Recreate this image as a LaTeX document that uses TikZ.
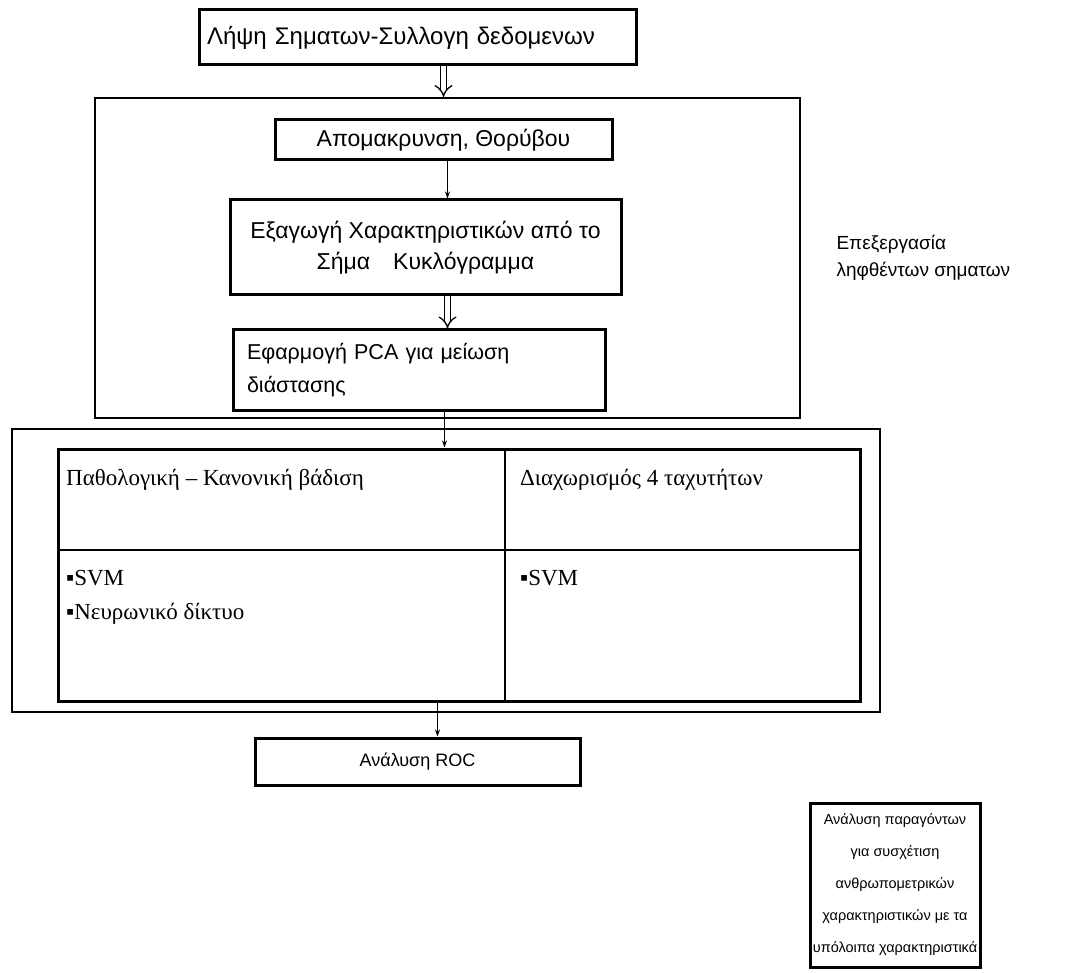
\documentclass[tikz,border=0pt]{standalone}
\usepackage{fontspec}
\setmainfont{Liberation Sans}
\newfontfamily\tabfont{Liberation Serif}
\usetikzlibrary{arrows.meta, positioning}

\begin{document}
\begin{tikzpicture}[
    x=1pt, y=-1pt,
    stage/.style={rectangle, draw=black, line width=3pt, inner sep=4pt, font=\fontsize{23}{31}\selectfont, align=center},
    frame/.style={rectangle, draw=black, line width=1.8pt, inner sep=0pt},
    cell/.style={anchor=west, inner sep=0pt, font=\tabfont\fontsize{23}{26}\selectfont},
    arrow/.style={-{Stealth[length=7pt, width=5pt]}, line width=1.2pt},
    bigarrow/.style={double, double distance=5pt, line width=1.3pt, -{Implies}}
]
    \useasboundingbox (0,0) rectangle (1068,973);

    % Acquisition
    \node[stage, minimum width=437pt, minimum height=55pt, text width=421pt, align=left, font=\fontsize{24}{28}\selectfont] (acq) at (417.5,37.5) {Λήψη Σηματων-Συλλογη δεδομενων};

    % Signal processing block
    \node[frame, minimum width=705pt, minimum height=320pt] (proc) at (447.5,258) {};
    \node[stage, minimum width=337pt, minimum height=40pt] (noise) at (443.5,140) {Απομακρυνση, Θορύβου};
    \node[stage, minimum width=391pt, minimum height=95pt] (feat) at (425.5,247.5) {Εξαγωγή Χαρακτηριστικών από το\\Σήμα\quad Κυκλόγραμμα};
    \node[stage, minimum width=372pt, minimum height=80pt, text width=344pt, align=left, font=\fontsize{21.5}{33}\selectfont] (pca) at (419,370) {Εφαρμογή PCA για μείωση\\διάστασης};
    \node[anchor=west, align=left, font=\fontsize{19}{27}\selectfont] (proclabel) at (833,258) {Επεξεργασία\\ληφθέντων σηματων};

    % Classification block
    \node[frame, minimum width=868pt, minimum height=283pt] (cls) at (446,570.5) {};
    \node[frame, line width=3pt, minimum width=802pt, minimum height=252pt] (tab) at (459,575) {};
    \coordinate (rowL) at (58,550);
    \coordinate (rowR) at (860,550);
    \coordinate (colT) at (505,449);
    \coordinate (colB) at (505,701);
    \draw[line width=1.4pt] (rowL) -- (rowR);
    \draw[line width=1.4pt] (colT) -- (colB);
    \node[cell] (headA) at (66,480) {Παθολογική – Κανονική βάδιση};
    \node[cell] (headB) at (520,480) {Διαχωρισμός 4 ταχυτήτων};
    \node[cell] (svmA) at (66,578) {▪SVM};
    \node[cell] (nnA) at (66,614) {▪Νευρωνικό δίκτυο};
    \node[cell] (svmB) at (520,578) {▪SVM};

    % Evaluation
    \node[stage, minimum width=325pt, minimum height=47pt, font=\fontsize{18}{22}\selectfont] (roc) at (417.5,761.5) {Ανάλυση ROC};
    \node[stage, minimum width=170pt, minimum height=164pt, inner sep=2pt, font=\fontsize{14.5}{32}\selectfont] (factor) at (895,885) {Ανάλυση παραγόντων\\για συσχέτιση\\ανθρωπομετρικών\\χαρακτηριστικών με τα\\υπόλοιπα χαρακτηριστικά};

    % Flow
    \draw[bigarrow] (acq.south -| noise.north) -- (proc.north -| noise.north);
    \draw[arrow] ([xshift=4pt]noise.south) -- ([xshift=4pt]noise.south |- feat.north);
    \draw[bigarrow] ([xshift=4pt]feat.south -| noise.south) -- ([xshift=4pt]pca.north -| noise.south);
    \draw[arrow] ([xshift=1pt]pca.south -| noise.south) -- ([xshift=1pt]tab.north -| noise.south);
    \draw[arrow] ([xshift=20pt]tab.south -| roc.north) -- ([xshift=20pt]roc.north);
\end{tikzpicture}
\end{document}
